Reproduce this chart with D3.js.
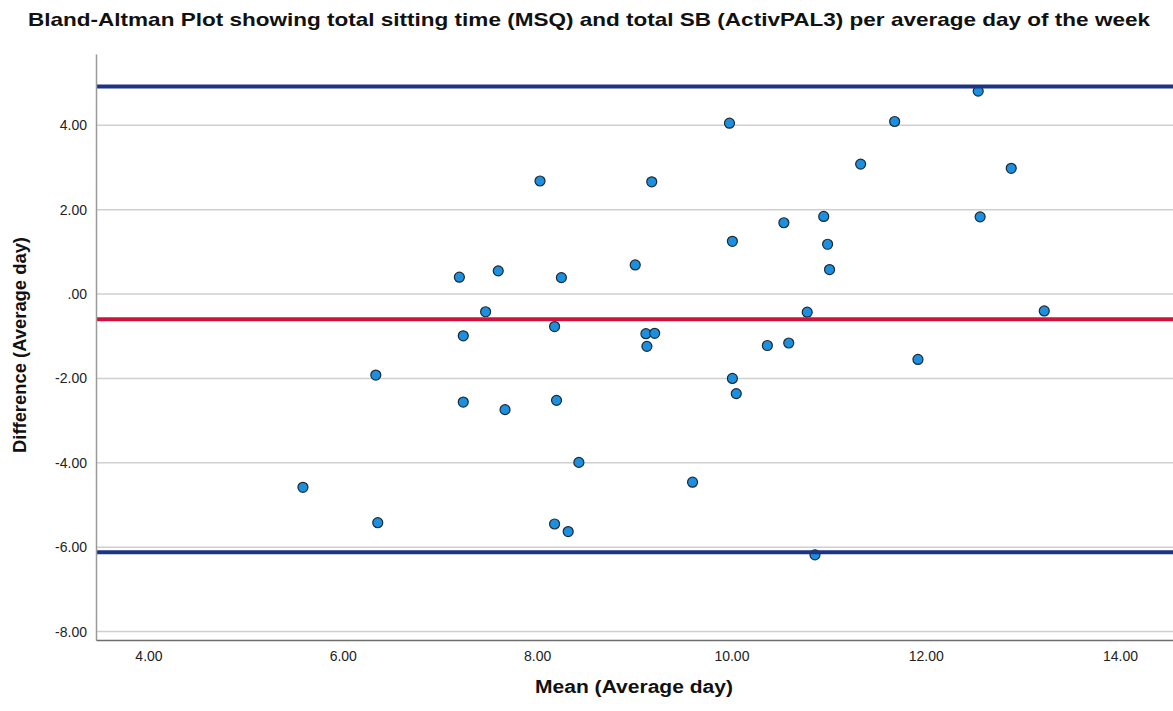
<!DOCTYPE html>
<html>
<head>
  <meta charset="UTF-8">
  <script type="text/javascript" src="https://cdn.jsdelivr.net/npm/d3@7/dist/d3.min.js"></script>
  <title>Bland-Altman Plot</title>
  <style>
    body { margin: 0; background: #fff; }
    text { font-family: "Liberation Sans", Arial, sans-serif; }
  </style>
</head>

<body>

<svg xmlns="http://www.w3.org/2000/svg" width="1173" height="711"></svg>

<script type="text/javascript">

  // mean of the two methods (hours per average day)
  var meanValues = [
    7.20, 7.60, 8.25, 9.01, 7.47, 7.24, 8.18, 9.12, 9.21, 9.13,
    8.03, 9.18, 11.01, 10.78, 10.37, 10.59, 11.92, 10.01, 10.05, 10.01,
    10.54, 10.95, 10.99, 12.54, 11.68, 11.33, 12.88, 7.24, 7.67, 8.20,
    8.43, 8.18, 8.32, 9.60, 6.34, 5.59, 6.36, 9.98, 12.56, 13.22, 10.86
  ];

  // difference MSQ - activPAL3
  var diffValues = [
    0.40, 0.55, 0.39, 0.69, -0.42, -0.99, -0.77, -0.94, -0.93, -1.24,
    2.68, 2.66, 0.58, -0.43, -1.22, -1.16, -1.55, -2.00, -2.36, 1.25,
    1.69, 1.84, 1.18, 4.81, 4.09, 3.08, 2.98, -2.56, -2.74, -2.52,
    -3.99, -5.45, -5.63, -4.46, -1.92, -4.58, -5.42, 4.05, 1.83, -0.40, -6.18
  ];

  var meanDiff = -0.60;
  var limitsOfAgreement = [ 4.92, -6.12 ];

  var xTicks = [ 4, 6, 8, 10, 12, 14 ];
  var yTicks = [ -8, -6, -4, -2, 0, 2, 4 ];

  // plot box in pixels
  var plotLeft = 96, plotRight = 1173, plotTop = 54, plotBottom = 640;

  var x = d3.scaleLinear().domain( [ 3.46, 14.545 ] ).range( [ plotLeft, plotRight ] );
  var y = d3.scaleLinear().domain( [ -8.2, 5.69 ] ).range( [ plotBottom, plotTop ] );

  // SPSS style labels: ".00" for zero, plain hyphen for minus
  function fmt( v )
  {
    var s = v.toFixed( 2 );
    return s.replace( /^(-?)0\./, "$1." );
  }

  var svg = d3.select( "svg" );

  // gridlines
  svg.append( "g" )
      .selectAll( "line" ).data( yTicks ).enter()
      .append( "line" )
      .attr( "x1", plotLeft )
      .attr( "x2", plotRight )
      .attr( "y1", function ( d ) { return y( d ); } )
      .attr( "y2", function ( d ) { return y( d ); } )
      .attr( "stroke", "#cfcfcf" )
      .attr( "stroke-width", 1.5 );

  // points (drawn under the reference lines, as in the original)
  var points = meanValues.map( function ( m, i ) { return { m: m, d: diffValues[i] }; } );

  svg.append( "g" )
      .selectAll( "circle" ).data( points ).enter()
      .append( "circle" )
      .attr( "cx", function ( p ) { return x( p.m ); } )
      .attr( "cy", function ( p ) { return y( p.d ); } )
      .attr( "r", 5 )
      .attr( "fill", "#1b8fe0" )
      .attr( "stroke", "#1e2a33" )
      .attr( "stroke-width", 1.2 );

  // limits of agreement + mean difference
  var refLines = [
    { v: limitsOfAgreement[0], c: "#1c3484" },
    { v: limitsOfAgreement[1], c: "#1c3484" },
    { v: meanDiff, c: "#d1123f" }
  ];

  svg.append( "g" )
      .selectAll( "line" ).data( refLines ).enter()
      .append( "line" )
      .attr( "x1", plotLeft )
      .attr( "x2", plotRight )
      .attr( "y1", function ( d ) { return y( d.v ); } )
      .attr( "y2", function ( d ) { return y( d.v ); } )
      .attr( "stroke", function ( d ) { return d.c; } )
      .attr( "stroke-width", 4 );

  // axes
  var yAxis = d3.axisLeft( y ).tickValues( yTicks ).tickFormat( fmt ).tickSize( 0 ).tickPadding( 9 );
  var xAxis = d3.axisBottom( x ).tickValues( xTicks ).tickFormat( fmt ).tickSize( 0 ).tickPadding( 11 );

  var gy = svg.append( "g" )
      .attr( "transform", "translate(" + plotLeft + ",0)" )
      .call( yAxis );
  gy.select( ".domain" ).attr( "stroke", "#9a9a9a" ).attr( "stroke-width", 1.5 );
  gy.selectAll( "text" ).attr( "font-size", 14 ).attr( "fill", "#222" ).attr( "font-family", "Liberation Sans, Arial, sans-serif" );

  var gx = svg.append( "g" )
      .attr( "transform", "translate(0," + plotBottom + ")" )
      .call( xAxis );
  gx.select( ".domain" ).attr( "stroke", "#6e6e6e" ).attr( "stroke-width", 1.5 );
  gx.selectAll( "text" ).attr( "font-size", 14 ).attr( "fill", "#222" ).attr( "font-family", "Liberation Sans, Arial, sans-serif" );

  // titles
  svg.append( "text" )
      .attr( "x", 589 )
      .attr( "y", 26 )
      .attr( "text-anchor", "middle" )
      .attr( "font-size", 19 )
      .attr( "font-weight", "bold" )
      .attr( "fill", "#111" )
      .attr( "textLength", 1122 )
      .attr( "lengthAdjust", "spacingAndGlyphs" )
      .text( "Bland-Altman Plot showing total sitting time (MSQ) and total SB (ActivPAL3) per average day of the week" );

  svg.append( "text" )
      .attr( "x", 634 )
      .attr( "y", 693 )
      .attr( "text-anchor", "middle" )
      .attr( "font-size", 18 )
      .attr( "font-weight", "bold" )
      .attr( "fill", "#111" )
      .attr( "textLength", 198 )
      .attr( "lengthAdjust", "spacingAndGlyphs" )
      .text( "Mean (Average day)" );

  svg.append( "text" )
      .attr( "transform", "translate(26,345) rotate(-90)" )
      .attr( "text-anchor", "middle" )
      .attr( "font-size", 18 )
      .attr( "font-weight", "bold" )
      .attr( "fill", "#111" )
      .attr( "textLength", 216 )
      .attr( "lengthAdjust", "spacingAndGlyphs" )
      .text( "Difference (Average day)" );
</script>

</body>
</html>
